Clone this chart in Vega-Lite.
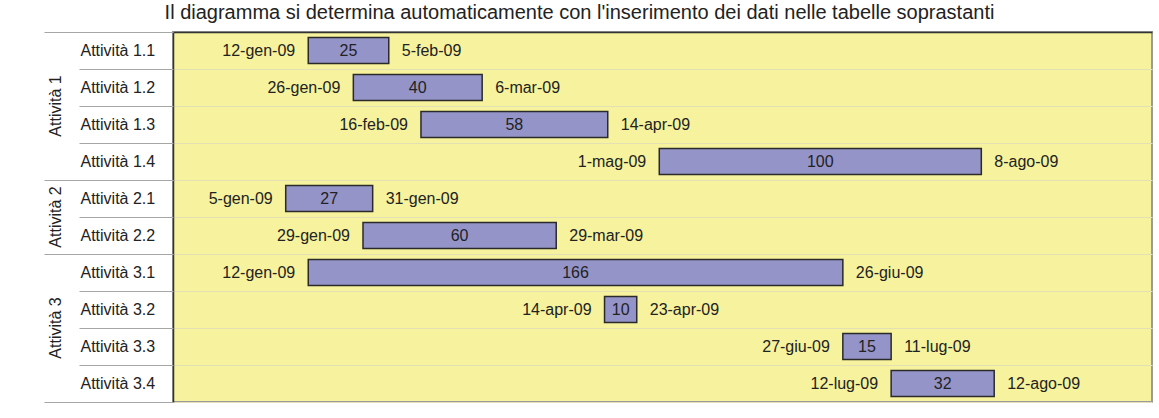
{
  "$schema": "https://vega.github.io/schema/vega-lite/v6.json",
  "width": 979,
  "height": 370,
  "autosize": "none",
  "padding": {"left": 173, "top": 32, "right": 7, "bottom": 16},
  "background": "#ffffff",
  "title": {
    "text": "Il diagramma si determina automaticamente con l'inserimento dei dati nelle tabelle soprastanti",
    "font": "Liberation Sans",
    "fontSize": 20,
    "fontWeight": "normal",
    "color": "#222222",
    "anchor": "middle",
    "frame": "group",
    "baseline": "alphabetic",
    "offset": 17,
    "dy": 24,
    "dx": -83
  },
  "data": {
    "values": [
      {"attivita": "Attività 1.1", "inizio": "2009-01-12", "fine": "2009-02-05", "giorni": 25},
      {"attivita": "Attività 1.2", "inizio": "2009-01-26", "fine": "2009-03-06", "giorni": 40},
      {"attivita": "Attività 1.3", "inizio": "2009-02-16", "fine": "2009-04-14", "giorni": 58},
      {"attivita": "Attività 1.4", "inizio": "2009-05-01", "fine": "2009-08-08", "giorni": 100},
      {"attivita": "Attività 2.1", "inizio": "2009-01-05", "fine": "2009-01-31", "giorni": 27},
      {"attivita": "Attività 2.2", "inizio": "2009-01-29", "fine": "2009-03-29", "giorni": 60},
      {"attivita": "Attività 3.1", "inizio": "2009-01-12", "fine": "2009-06-26", "giorni": 166},
      {"attivita": "Attività 3.2", "inizio": "2009-04-14", "fine": "2009-04-23", "giorni": 10},
      {"attivita": "Attività 3.3", "inizio": "2009-06-27", "fine": "2009-07-11", "giorni": 15},
      {"attivita": "Attività 3.4", "inizio": "2009-07-12", "fine": "2009-08-12", "giorni": 32}
    ],
    "format": {"parse": {"inizio": "date", "fine": "date"}}
  },
  "config": {
    "font": "Liberation Sans",
    "view": {"fill": "#f6f29d", "stroke": "#9a9a9a", "strokeWidth": 2},
    "text": {"font": "Liberation Sans", "fontSize": 16, "color": "#222222"},
    "locale": {
      "time": {
        "dateTime": "%A %e %B %Y, %X",
        "date": "%d/%m/%Y",
        "time": "%H:%M:%S",
        "periods": ["AM", "PM"],
        "days": ["Domenica", "Lunedì", "Martedì", "Mercoledì", "Giovedì", "Venerdì", "Sabato"],
        "shortDays": ["Dom", "Lun", "Mar", "Mer", "Gio", "Ven", "Sab"],
        "months": ["Gennaio", "Febbraio", "Marzo", "Aprile", "Maggio", "Giugno", "Luglio", "Agosto", "Settembre", "Ottobre", "Novembre", "Dicembre"],
        "shortMonths": ["gen", "feb", "mar", "apr", "mag", "giu", "lug", "ago", "set", "ott", "nov", "dic"]
      }
    }
  },
  "resolve": {"axis": {"y": "independent"}, "scale": {"y": "shared"}},
  "layer": [
    {
      "transform": [{"timeUnit": "utcyearmonthdate", "field": "fine", "as": "fg"}],
      "mark": {"type": "bar", "fill": "#9494c9", "stroke": "#2a2a2a", "strokeWidth": 1.5, "height": {"band": 0.7}},
      "encoding": {
        "x": {
          "field": "inizio", "type": "temporal",
          "scale": {"domain": [{"year": 2008, "month": 12, "date": 1, "utc": true}, {"year": 2009, "month": 10, "date": 1, "utc": true}], "nice": false},
          "axis": {"orient": "top", "labels": false, "ticks": false, "grid": false, "domain": true, "domainColor": "#333333", "domainWidth": 1.5, "title": null}
        },
        "x2": {"field": "fg_end"},
        "y": {
          "field": "attivita", "type": "nominal",
          "scale": {"paddingInner": 0, "paddingOuter": 0},
          "axis": {"orient": "left", "ticks": false, "grid": false, "domain": true, "domainColor": "#333333", "domainWidth": 1.5,
                   "labelAlign": "left", "labelBaseline": "middle", "labelPadding": 93, "labelFont": "Liberation Sans", "labelFontSize": 16, "labelColor": "#222222", "title": null}
        }
      }
    },
    {
      "mark": {"type": "text", "align": "right", "baseline": "middle", "dx": -13},
      "encoding": {
        "x": {"field": "inizio", "type": "temporal",
              "axis": {"orient": "top", "labels": false, "ticks": false, "grid": false, "domain": true, "domainColor": "#333333", "domainWidth": 1.5, "title": null}},
        "y": {
          "field": "attivita", "type": "nominal",
          "axis": {"orient": "left", "tickBand": "extent", "ticks": true,
                   "tickSize": {"condition": {"test": "datum.index === -1", "value": 129}, "value": 94},
                   "tickColor": "#a6a6a6", "tickWidth": 1,
                   "labels": false, "domain": false, "grid": true, "gridColor": "#e3e0b6", "gridWidth": 1, "title": null}
        },
        "text": {"field": "inizio", "type": "temporal", "timeUnit": "utcyearmonthdate", "format": "%-d-%b-%y"}
      }
    },
    {
      "transform": [{"timeUnit": "utcyearmonthdate", "field": "fine", "as": "fg"}],
      "mark": {"type": "text", "align": "left", "baseline": "middle", "dx": 13},
      "encoding": {
        "x": {"field": "fg_end", "type": "temporal",
              "axis": {"orient": "top", "labels": false, "ticks": false, "grid": false, "domain": true, "domainColor": "#333333", "domainWidth": 1.5, "title": null}},
        "y": {
          "field": "attivita", "type": "nominal",
          "axis": {"orient": "left", "bandPosition": 1, "tickExtra": false, "values": ["Attività 1.4", "Attività 2.2", "Attività 3.4"], "ticks": true, "tickSize": 129, "tickColor": "#a6a6a6", "tickWidth": 1,
                   "labels": false, "domain": false, "grid": false, "title": null}
        },
        "text": {"field": "fine", "type": "temporal", "timeUnit": "utcyearmonthdate", "format": "%-d-%b-%y"}
      }
    },
    {
      "transform": [
        {"timeUnit": "utcyearmonthdate", "field": "fine", "as": "fg"},
        {"fold": ["inizio", "fg_end"], "as": ["estremo", "data_estremo"]}
      ],
      "mark": {"type": "text", "align": "center", "baseline": "middle"},
      "encoding": {
        "x": {"field": "data_estremo", "type": "temporal", "aggregate": "mean",
              "axis": {"orient": "top", "labels": false, "ticks": false, "grid": false, "domain": true, "domainColor": "#333333", "domainWidth": 1.5, "title": null}},
        "y": {
          "field": "attivita", "type": "nominal",
          "axis": {"orient": "left", "values": ["Attività 1.2", "Attività 2.1", "Attività 3.2"], "ticks": false, "domain": false, "grid": false,
                   "labelAngle": -90, "labelAlign": "center", "labelBaseline": "middle", "labelPadding": 118, "labelOffset": 18.5,
                   "labelExpr": "split(datum.label, '.')[0]", "labelFont": "Liberation Sans", "labelFontSize": 16, "labelColor": "#222222", "title": null}
        },
        "text": {"field": "giorni", "type": "quantitative"}
      }
    }
  ]
}
